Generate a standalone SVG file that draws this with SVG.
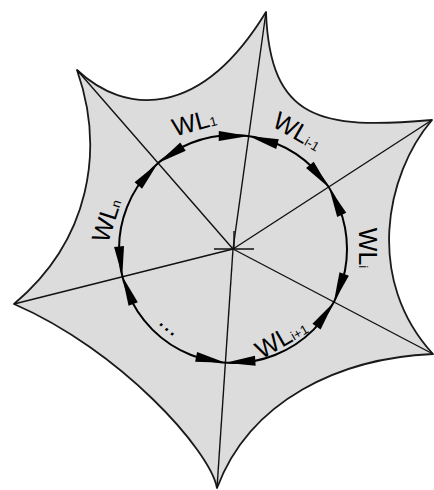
<svg xmlns="http://www.w3.org/2000/svg" xmlns:xlink="http://www.w3.org/1999/xlink" width="434" height="490" viewBox="0 0 434 490">
<style>
.star{fill:#dcdcdc;stroke:#1a1a1a;stroke-width:1.8;stroke-linejoin:round}
.spoke{stroke:#111;stroke-width:1.4;fill:none}
.ring{stroke:#000;stroke-width:2;fill:none}
.ah{fill:#000}
.lbl{font-family:"Liberation Sans",Arial,sans-serif;font-size:25px;fill:#000;text-anchor:middle}
.sub{font-size:13px}
</style>
<defs>
<path id="ahA" class="ah" d="M347,249 L348,218.7 L338.1,220 Z"/>
<path id="ahB" class="ah" d="M347,249 L348,279.3 L338.1,278 Z"/>
</defs>
<g id="star">
<path class="star" d="M77,70 C125,115 200,120 266,12 C270,120 320,130 432,120 C385,175 365,280 433,354 C340,358 250,400 217,488 C210,450 120,350 14,304 C90,240 105,150 77,70 Z"/>
</g>
<g id="connectors">
<line class="spoke" x1="233" y1="249" x2="266" y2="12"/>
<line class="spoke" x1="233" y1="249" x2="77" y2="70"/>
<line class="spoke" x1="233" y1="249" x2="432" y2="120"/>
<line class="spoke" x1="233" y1="249" x2="14" y2="304"/>
<line class="spoke" x1="233" y1="249" x2="217" y2="488"/>
<line class="spoke" x1="233" y1="249" x2="433" y2="354"/>
<line class="spoke" x1="214" y1="249" x2="254" y2="249"/>
<line class="spoke" x1="234" y1="231" x2="234" y2="249"/>
<circle class="ring" cx="233" cy="249" r="114"/>
<g transform="rotate(-131.1 233 249)"><use xlink:href="#ahA"/><use xlink:href="#ahB"/></g>
<g transform="rotate(-82.1 233 249)"><use xlink:href="#ahA"/><use xlink:href="#ahB"/></g>
<g transform="rotate(-32.5 233 249)"><use xlink:href="#ahA"/><use xlink:href="#ahB"/></g>
<g transform="rotate(27.8 233 249)"><use xlink:href="#ahA"/><use xlink:href="#ahB"/></g>
<g transform="rotate(93.8 233 249)"><use xlink:href="#ahA"/><use xlink:href="#ahB"/></g>
<g transform="rotate(166.2 233 249)"><use xlink:href="#ahA"/><use xlink:href="#ahB"/></g>
</g>
<g id="label-wl1"><text class="lbl" transform="translate(194 122) rotate(-15)" y="9">WL<tspan class="sub">1</tspan></text></g>
<g id="label-wli-1"><text class="lbl" transform="translate(298 131) rotate(30)" y="9">WL<tspan class="sub">i-1</tspan></text></g>
<g id="label-wli"><text class="lbl" transform="translate(368 248) rotate(90)" y="9">WL<tspan class="sub">i</tspan></text></g>
<g id="label-wli+1"><text class="lbl" transform="translate(281 338) rotate(-30)" y="9">WL<tspan class="sub">i+1</tspan></text></g>
<g id="label-wln"><text class="lbl" transform="translate(106 220) rotate(-72)" y="9">WL<tspan class="sub">n</tspan></text></g>
<g id="label-dots"><text class="lbl" style="font-size:26px" transform="translate(167 329) rotate(40)" y="2">...</text></g>
</svg>
